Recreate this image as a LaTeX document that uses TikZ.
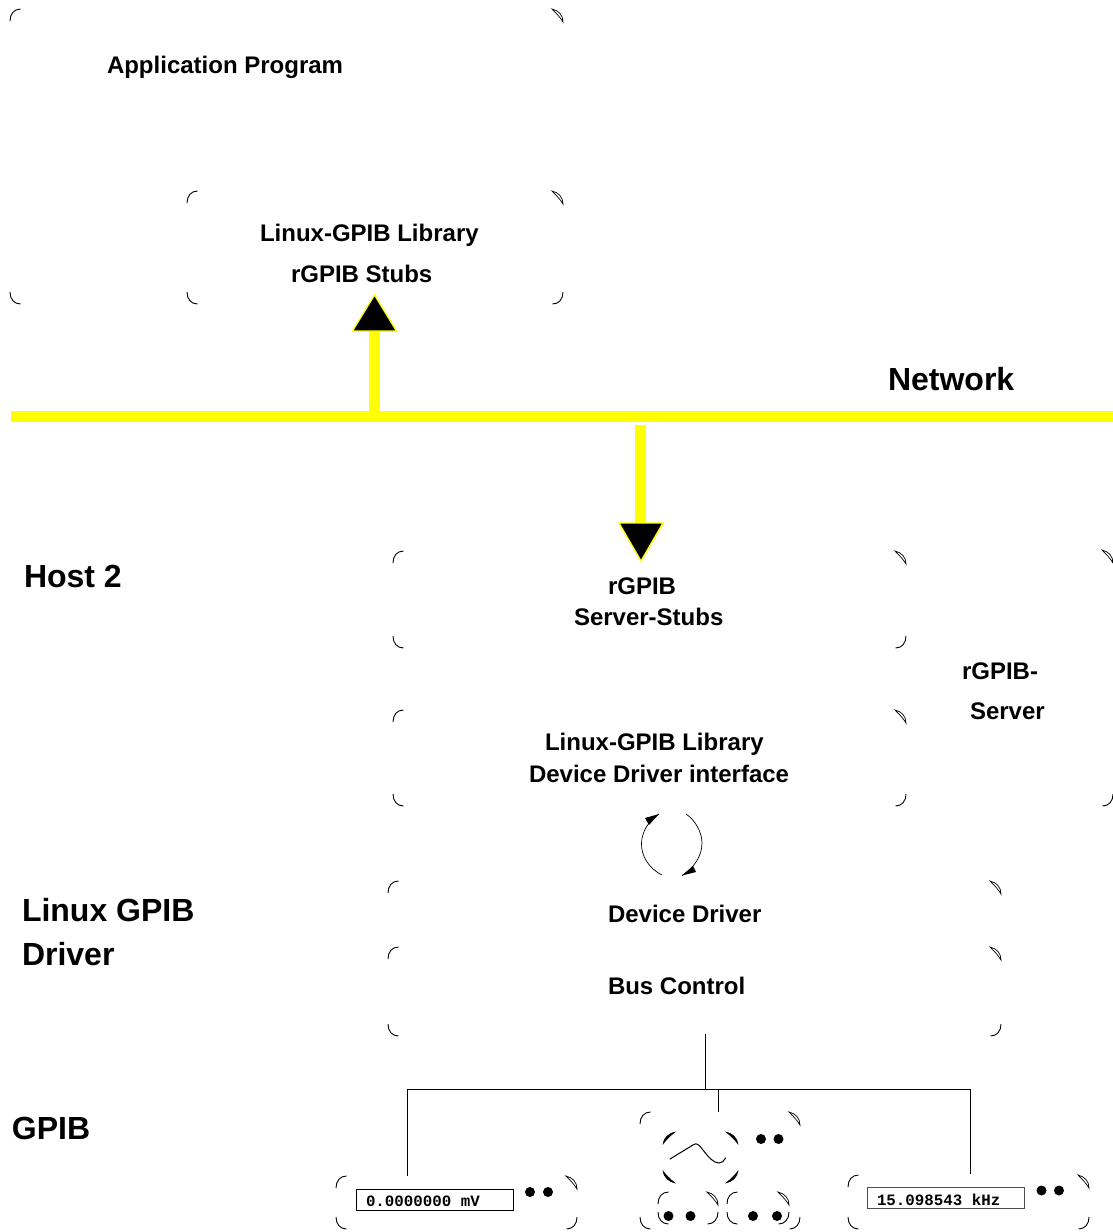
\documentclass[tikz,border=0pt]{standalone}
\usepackage{fontspec}
\setmainfont{Liberation Sans}
\newfontfamily\dispfont{Liberation Mono}
\usetikzlibrary{arrows.meta,calc}
\definecolor{netyellow}{RGB}{255,255,0}
\tikzset{
  corner/.style={draw=black,line width=0.9pt,fill=none},
  lens/.style={draw=black,line width=0.7pt,fill=white},
  thickc/.style={draw=black,line width=0.4pt,fill=black},
  lbl/.style={anchor=base west,inner sep=0,outer sep=0,font=\bfseries\fontsize{#1}{#1}\selectfont},
  disp/.style={anchor=base west,inner sep=0,outer sep=0,font=\dispfont\bfseries\fontsize{15.8}{15.8}\selectfont},
  wirel/.style={draw=black,line width=0.9pt},
  net/.style={draw=netyellow,line width=11pt},
  shaft/.style={draw=netyellow,line width=11pt},
  ahead/.style={draw=netyellow,line width=1.3pt,fill=black,line join=miter},
  rot/.style={draw=black,line width=0.7pt},
  rothead/.style={fill=black,draw=none},
  knob/.style={fill=black,draw=none,circle,minimum size=10pt,inner sep=0},
  screenbox/.style={draw=black,line width=0.9pt,fill=white},
}
% corners of a rounded box, individually
\newcommand\ctl[3][11]{\draw[corner] ({#2},{#3+#1+1}) .. controls ({#2},{#3+5}) and ({#2+4},{#3}) .. ({#2+#1-0.5},{#3});}
\newcommand\ctr[3][11]{\draw[lens] ({#2-#1},{#3}) .. controls ({#2-4.5},{#3+1.5}) and ({#2},{#3+6}) .. ({#2},{#3+#1+2}) .. controls ({#2-3},{#3+8}) and ({#2-7},{#3+4}) .. cycle;}
\newcommand\cbl[3][11]{\draw[corner] ({#2},{#3-#1-1}) .. controls ({#2},{#3-5}) and ({#2+4},{#3}) .. ({#2+#1-0.5},{#3});}
\newcommand\cbr[3][11]{\draw[corner] ({#2},{#3-#1-1}) .. controls ({#2},{#3-5}) and ({#2-4},{#3}) .. ({#2-#1+0.5},{#3});}
\newcommand\fourc[4]{\ctl{#1}{#2}\ctr{#3}{#2}\cbl{#1}{#4}\cbr{#3}{#4}}
\begin{document}
\begin{tikzpicture}[x=1pt,y=-1pt]
\useasboundingbox (0,0) rectangle (1113,1232);
\fill[white] (0,0) rectangle (1113,1232);

% boxes
\ctl{10}{9}\ctr{563}{9}\cbl{10}{304}
\fourc{187}{191}{563}{304}
\fourc{393}{551}{906}{648}
\fourc{393}{710}{906}{806}
\ctr{1113}{550}\cbr{1113}{806}
\ctl{388}{881}\ctr{1001}{881}
\fourc{388}{947}{1001}{1036}

% labels
\node[lbl=24] (app) at (107,73) {Application Program};
\node[lbl=24] (lib1) at (260,241) {Linux-GPIB Library};
\node[lbl=24] (stubs) at (291,282) {rGPIB Stubs};
\node[lbl=32] (network) at (888,390) {Network};
\node[lbl=32] (host) at (24,587) {Host 2};
\node[lbl=24] (rg) at (608,594) {rGPIB};
\node[lbl=24] (ss) at (574,625) {Server-Stubs};
\node[lbl=24] (rgs1) at (962,679) {rGPIB-};
\node[lbl=24] (rgs2) at (970,719) {Server};
\node[lbl=24] (lib2) at (545,750) {Linux-GPIB Library};
\node[lbl=24] (ddi) at (529,782) {Device Driver interface};
\node[lbl=24] (dd) at (608,922) {Device Driver};
\node[lbl=24] (bc) at (608,994) {Bus Control};
\node[lbl=32] (lg1) at (22,921) {Linux GPIB};
\node[lbl=32] (lg2) at (22,965) {Driver};
\node[lbl=32] (gpib) at (12,1139) {GPIB};

% network
\coordinate (netL) at (11,416.5);
\coordinate (netR) at (1113,416.5);
\coordinate (upS) at (374.5,412);
\coordinate (upE) at (374.5,331);
\coordinate (upT) at (374.5,295);
\coordinate (dnS) at (640,425);
\coordinate (dnE) at (640,523);
\coordinate (dnT) at (641,561);
\draw[net] (netL) -- (netR);
\draw[shaft] (upS) -- (upE);
\draw[shaft] (dnS) -- (dnE);
\draw[ahead] (upT) -- ($(upE)+(-22,0)$) -- ($(upE)+(22,0)$) -- cycle;
\draw[ahead] (dnT) -- ($(dnE)+(-21,0)$) -- ($(dnE)+(23,0)$) -- cycle;

% rotation arrows
\coordinate (rl0) at (662,875);
\coordinate (rl1) at (659,814);
\coordinate (rr0) at (686,814);
\coordinate (rr1) at (682,875.5);
\draw[rot] (rl0) .. controls (648,868) and (641,855) .. (641.5,843) .. controls (642,830) and (650,820) .. (rl1);
\draw[rot] (rr0) .. controls (695,820) and (702,832) .. (702,843) .. controls (702,856) and (694,868) .. (rr1);
\fill[rothead] (rl1) -- (645,818) -- (649,825) -- cycle;
\fill[rothead] (rr1) -- (696,872) -- (693,866) -- cycle;

% bus
\coordinate (busT) at (705,1034);
\coordinate (busJ) at (705,1089);
\coordinate (busL) at (407,1089);
\coordinate (busR) at (970,1089);
\coordinate (busM) at (718,1089);
\coordinate (devL) at (407,1176);
\coordinate (devM) at (718,1112);
\coordinate (devR) at (970,1174);
\draw[wirel] (busT) -- (busJ);
\draw[wirel] (devL) -- (busL) -- (busR) -- (devR);
\draw[wirel] (busM) -- (devM);

% left instrument
\fourc{336}{1176}{577}{1229}
\node[screenbox,minimum width=157pt,minimum height=21pt,inner sep=0,anchor=north west] (dispL) at (355.5,1188.5) {};
\node[disp] (txtL) at (366,1206) {0.0000000 mV};
\node[knob] (kl1) at (530,1192) {};
\node[knob] (kl2) at (548,1192) {};

% middle instrument
\fourc{640}{1112}{800}{1229}
\draw[thickc] (663,1144) .. controls (663.5,1138) and (669,1133) .. (675,1132) .. controls (670,1136) and (666,1140) .. cycle;
\draw[thickc] (738,1144) .. controls (737.5,1138) and (732,1133) .. (726,1132) .. controls (731,1136) and (735,1140) .. cycle;
\draw[thickc] (663,1171) .. controls (663.5,1177) and (669,1182) .. (675,1183) .. controls (670,1179) and (666,1175) .. cycle;
\draw[thickc] (738,1171) .. controls (737.5,1177) and (732,1182) .. (726,1183) .. controls (731,1179) and (735,1175) .. cycle;
\draw[line width=1pt,line cap=round] (670,1159) -- (693,1145) .. controls (697,1142) and (699,1145) .. (703,1150) .. controls (709,1158) and (714,1163) .. (719,1163) .. controls (722,1163) and (724,1161) .. (725.5,1158);
\node[knob] (km1) at (761,1139) {};
\node[knob] (km2) at (778.5,1139) {};
\fourc{658}{1192}{718}{1224}
\fourc{727}{1192}{789}{1224}
\node[knob] (kb1) at (668.5,1216) {};
\node[knob] (kb2) at (690.5,1216) {};
\node[knob] (kb3) at (753,1216) {};
\node[knob] (kb4) at (777,1216) {};

% right instrument
\fourc{848}{1175}{1089}{1229}
\node[screenbox,draw=black!70,minimum width=157pt,minimum height=21pt,inner sep=0,anchor=north west] (dispR) at (867,1187) {};
\node[disp] (txtR) at (877,1205) {15.098543 kHz};
\node[knob] (kr1) at (1041.5,1190.5) {};
\node[knob] (kr2) at (1059,1190.5) {};
\end{tikzpicture}
\end{document}
